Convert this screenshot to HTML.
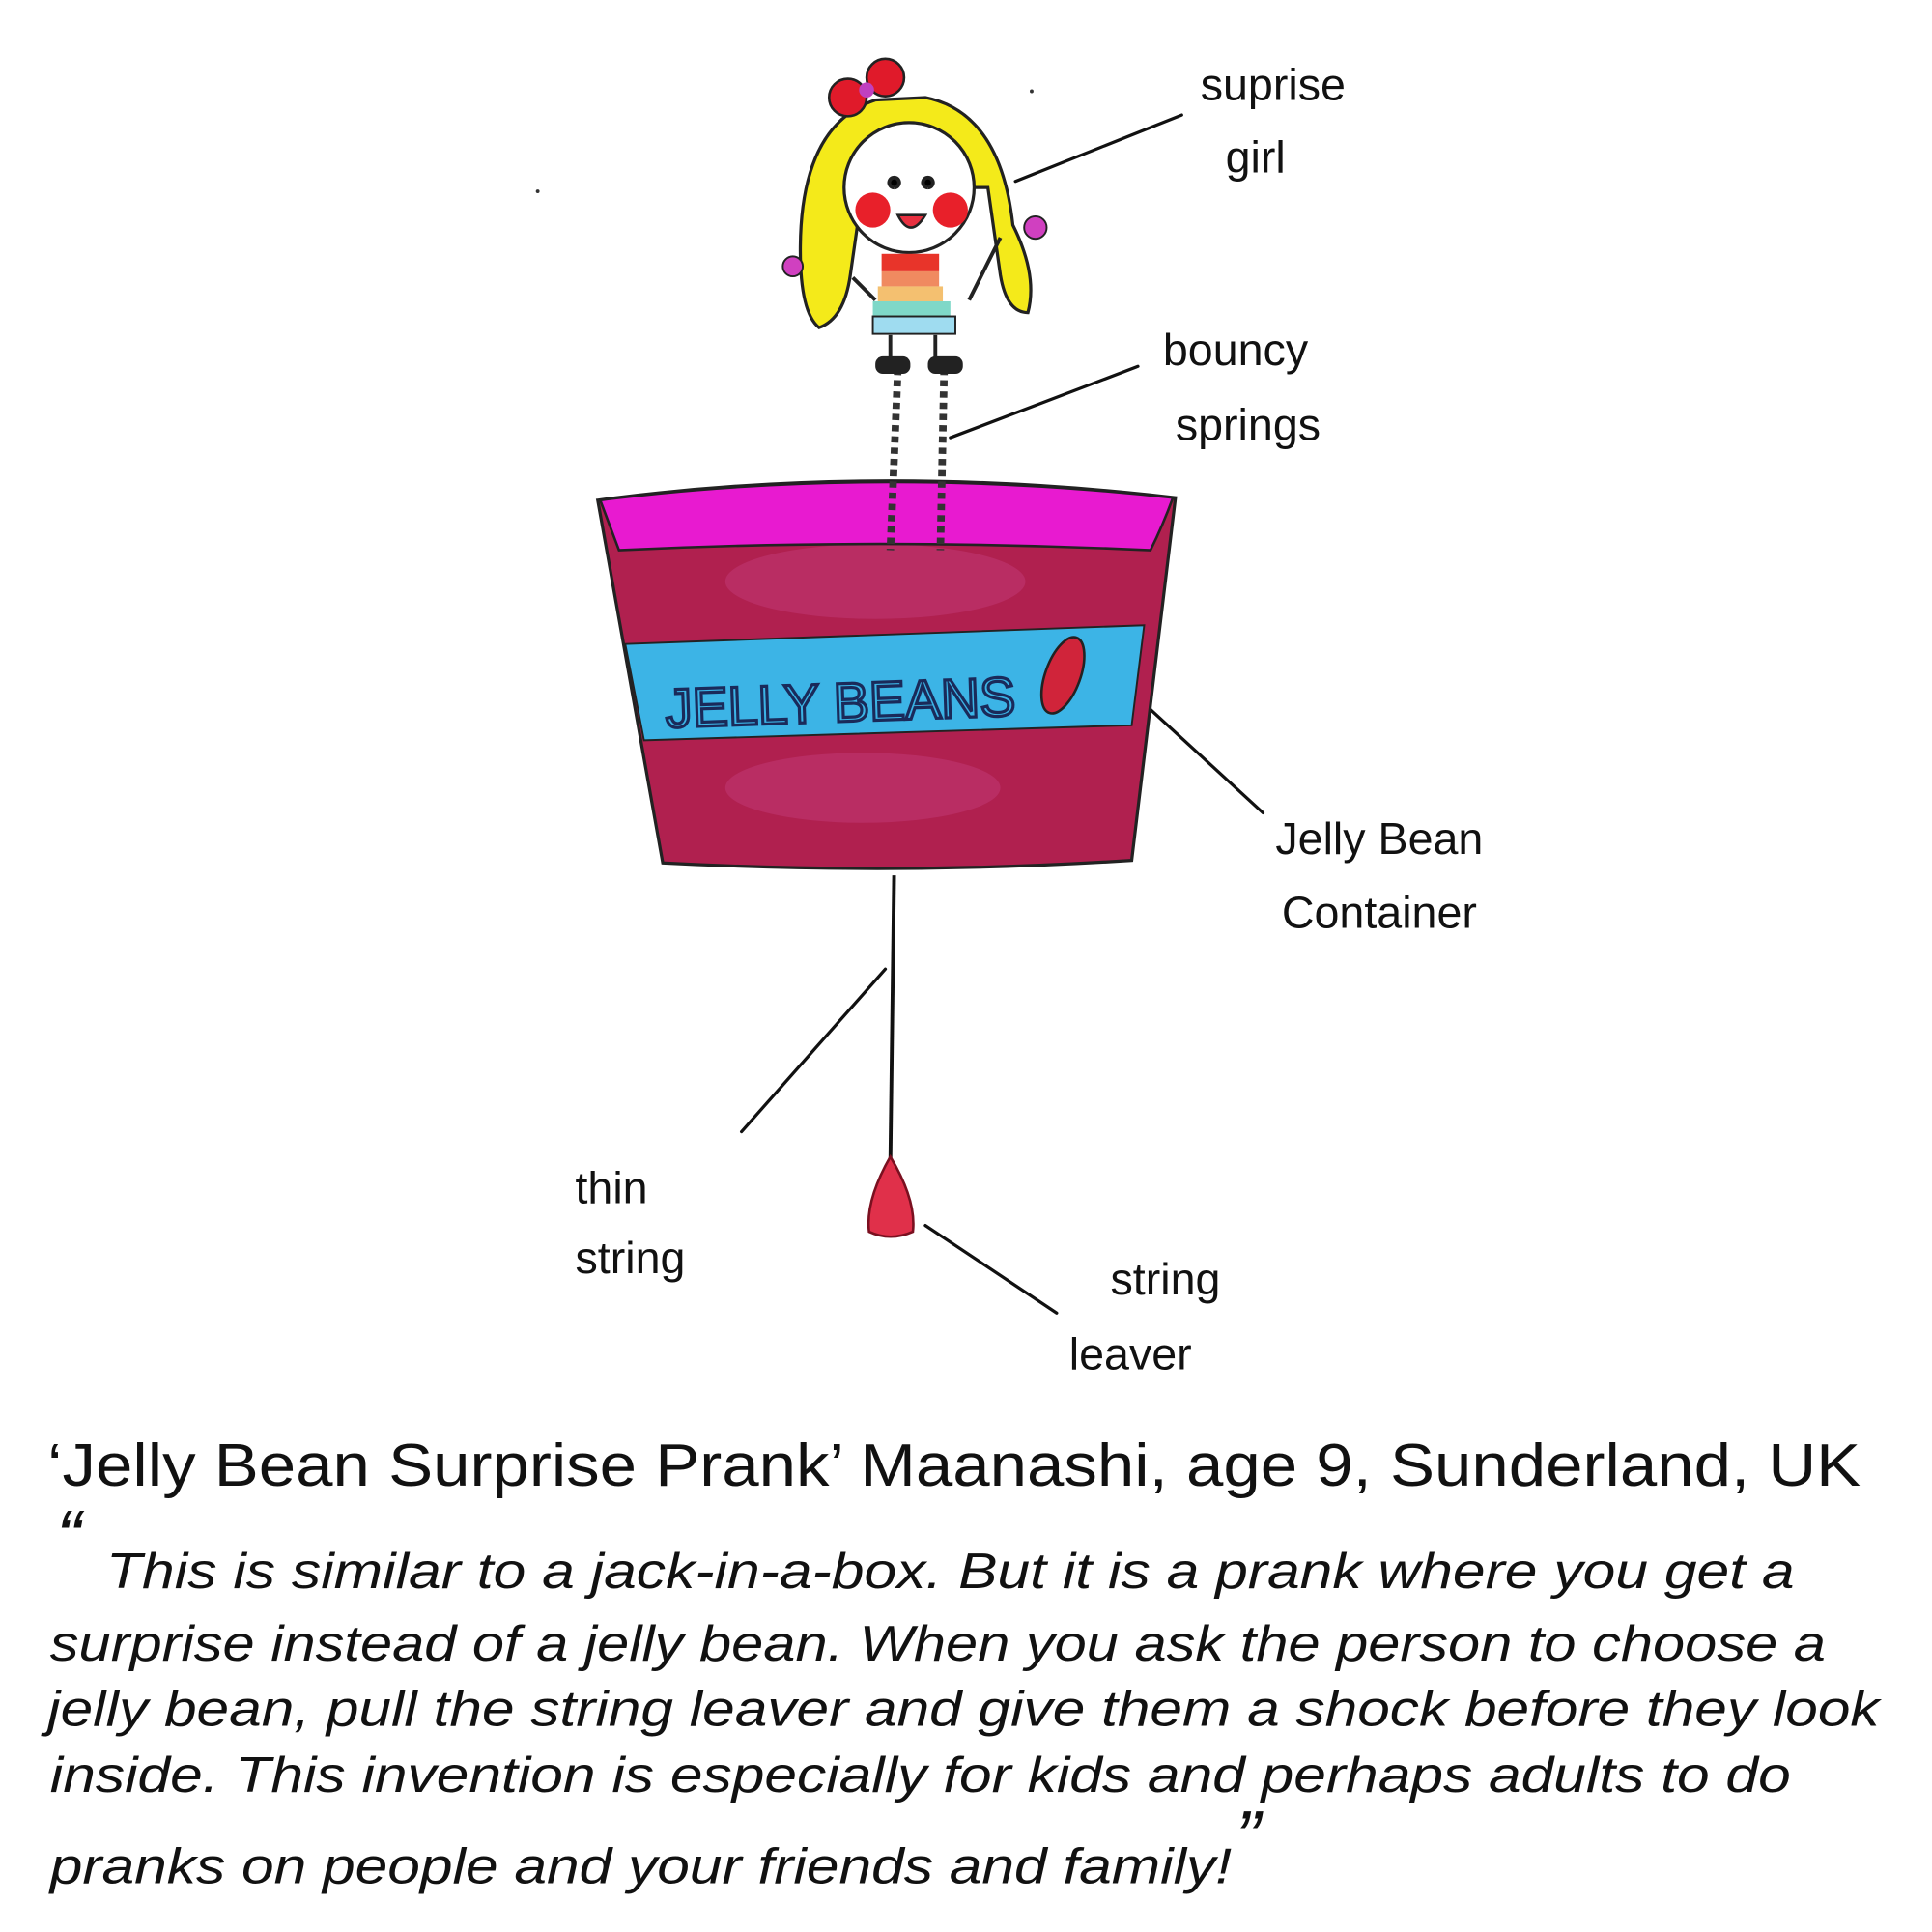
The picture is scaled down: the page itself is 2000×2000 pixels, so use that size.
<!DOCTYPE html>
<html><head><meta charset="utf-8"><style>
html,body{margin:0;padding:0;background:#fff;width:2000px;height:2000px;overflow:hidden}
svg{display:block}
</style></head><body>
<svg width="2000" height="2000" viewBox="0 0 1545 1545" xmlns="http://www.w3.org/2000/svg">
<rect width="1545" height="1545" fill="#fff"/>
<!-- leader lines -->
<g stroke="#111" stroke-width="2.5" fill="none" stroke-linecap="round">
<path d="M812 145 L945 92"/>
<path d="M760 350 L910 293"/>
<path d="M912 560 L1010 650"/>
<path d="M708 775 L593 905"/>
<path d="M740 980 L845 1050"/>
</g>
<!-- bucket -->
<path d="M478 400 Q700 370 940 398 L905 688 Q720 700 530 690 Z" fill="#b0204f" stroke="#222" stroke-width="2.5"/>
<ellipse cx="700" cy="465" rx="120" ry="30" fill="#c23a78" opacity="0.5"/>
<ellipse cx="690" cy="630" rx="110" ry="28" fill="#c23a78" opacity="0.5"/>
<path d="M480 400 Q700 372 938 398 Q930 420 920 440 Q700 430 495 440 Z" fill="#e81ad0" stroke="#222" stroke-width="2"/>
<path d="M500 515 L915 500 L905 580 L515 592 Z" fill="#3cb4e6" stroke="#222" stroke-width="1.5"/>
<text x="532" y="577" font-family="Liberation Sans, sans-serif" font-size="44" fill="none" stroke="#1a2a5a" stroke-width="2.5" textLength="280" lengthAdjust="spacingAndGlyphs" transform="rotate(-2 670 560)">JELLY BEANS</text>
<ellipse cx="850" cy="540" rx="14" ry="32" fill="#d0243a" stroke="#222" stroke-width="2" transform="rotate(20 850 540)"/>
<!-- springs -->
<g stroke="#333" stroke-width="6" stroke-dasharray="5 4">
<path d="M718 295 L712 440"/>
<path d="M755 295 L752 440"/>
</g>
<!-- string + lever -->
<path d="M715 700 L712 930" stroke="#111" stroke-width="3"/>
<path d="M712 925 Q692 960 695 985 Q712 993 730 985 Q733 960 712 925Z" fill="#e0304a" stroke="#7a1020" stroke-width="2"/>
<!-- girl -->
<path d="M700 80 Q640 100 640 200 Q640 250 655 262 Q675 255 680 220 L690 150 L790 150 L800 220 Q805 250 822 250 Q830 220 810 180 Q800 90 740 78 Z" fill="#f4ea1a" stroke="#222" stroke-width="2.5"/>
<circle cx="727" cy="150" r="52" fill="#fff" stroke="#222" stroke-width="2.5"/>
<circle cx="698" cy="168" r="14" fill="#e8202a"/>
<circle cx="760" cy="168" r="14" fill="#e8202a"/>
<path d="M715 150 a4 4 0 1 1 0.1 0 M742 150 a4 4 0 1 1 0.1 0" stroke="#222" stroke-width="3"/>
<path d="M718 172 Q728 192 740 172 Z" fill="#e83040" stroke="#222" stroke-width="2"/>
<circle cx="678" cy="78" r="15" fill="#e01a2a" stroke="#222" stroke-width="2"/>
<circle cx="708" cy="62" r="15" fill="#e01a2a" stroke="#222" stroke-width="2"/>
<circle cx="693" cy="72" r="6" fill="#c040c0"/>
<rect x="705" y="203" width="46" height="14" fill="#e8342a"/>
<rect x="705" y="217" width="46" height="12" fill="#f08a60"/>
<rect x="702" y="229" width="52" height="12" fill="#f4c070"/>
<rect x="698" y="241" width="62" height="12" fill="#7fd8c8"/>
<rect x="698" y="253" width="66" height="14" fill="#9fdcf0" stroke="#222" stroke-width="1.5"/>
<path d="M712 268 L712 290 M748 268 L748 290 M682 222 L700 240 M775 240 L800 190" stroke="#222" stroke-width="3"/>
<rect x="700" y="285" width="28" height="14" rx="6" fill="#222"/>
<rect x="742" y="285" width="28" height="14" rx="6" fill="#222"/>
<circle cx="634" cy="213" r="8" fill="#d040c0" stroke="#222" stroke-width="1.5"/>
<circle cx="828" cy="182" r="9" fill="#d040c0" stroke="#222" stroke-width="1.5"/>
<circle cx="825" cy="73" r="1.5" fill="#333"/>
<circle cx="430" cy="153" r="1.5" fill="#333"/>
<!-- labels -->
<g font-family="Liberation Sans, sans-serif" font-size="36" fill="#111">
<text x="960" y="80">suprise</text><text x="980" y="138">girl</text>
<text x="930" y="292">bouncy</text><text x="940" y="352">springs</text>
<text x="1020" y="683">Jelly Bean</text><text x="1025" y="742">Container</text>
<text x="460" y="962">thin</text><text x="460" y="1018">string</text>
<text x="888" y="1035">string</text><text x="855" y="1095">leaver</text>
</g>
<!-- caption -->
<text x="38" y="1188" font-family="Liberation Sans, sans-serif" font-size="48" fill="#111" textLength="1450" lengthAdjust="spacingAndGlyphs">‘Jelly Bean Surprise Prank’ Maanashi, age 9, Sunderland, UK</text>
<g font-family="Liberation Sans, sans-serif" font-style="italic" font-size="40" fill="#111" lengthAdjust="spacingAndGlyphs">
<text x="45" y="1250" font-size="60">“</text>
<text x="85" y="1270" textLength="1350" lengthAdjust="spacingAndGlyphs">This is similar to a jack-in-a-box. But it is a prank where you get a</text>
<text x="40" y="1328" textLength="1420" lengthAdjust="spacingAndGlyphs">surprise instead of a jelly bean. When you ask the person to choose a</text>
<text x="38" y="1380" textLength="1465" lengthAdjust="spacingAndGlyphs">jelly bean, pull the string leaver and give them a shock before they look</text>
<text x="40" y="1433" textLength="1392" lengthAdjust="spacingAndGlyphs">inside. This invention is especially for kids and perhaps adults to do</text>
<text x="40" y="1506" textLength="945" lengthAdjust="spacingAndGlyphs">pranks on people and your friends and family!</text>
<text x="988" y="1490" font-size="60">”</text>
</g>
</svg>
</body></html>
